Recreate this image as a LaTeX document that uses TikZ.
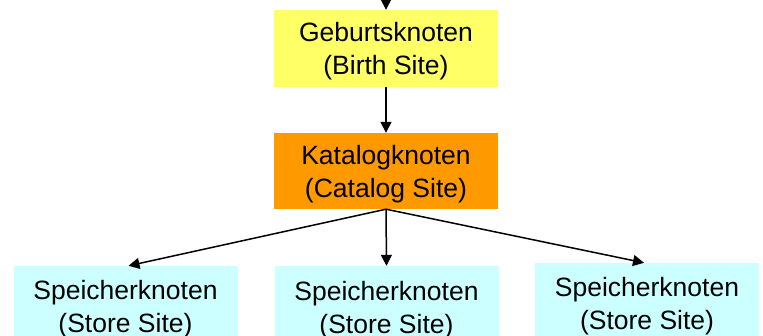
\documentclass[tikz,border=0pt]{standalone}
\usepackage{fontspec}
\setmainfont{Liberation Sans}
\usetikzlibrary{arrows.meta}
\definecolor{birthY}{HTML}{FFFF66}
\definecolor{catO}{HTML}{FF9900}
\definecolor{storeC}{HTML}{CCFFFF}
\tikzset{
  site/.style={rectangle, inner sep=0pt, minimum width=224pt},
  sitetext/.style={inner sep=0pt, align=center, yshift=-3pt,
    font=\fontsize{26.5}{33}\selectfont, text=black},
  conn/.style={line width=1.5pt, -{Triangle[length=11pt,width=11pt]}}
}
\begin{document}
\begin{tikzpicture}[x=1pt,y=-1pt]
\useasboundingbox (0,0) rectangle (763,336);
\clip (0,0) rectangle (763,336);
\fill[white] (0,0) rectangle (763,336);
\node[site, fill=birthY, minimum height=77pt,
  label={[sitetext]center:{Geburtsknoten\\(Birth Site)}}] (birth) at (386,48.5) {};
\node[site, fill=catO, minimum height=76pt,
  label={[sitetext]center:{Katalogknoten\\(Catalog Site)}}] (cat) at (386,171) {};
\node[site, fill=storeC, minimum height=80pt,
  label={[sitetext]center:{Speicherknoten\\(Store Site)}}] (s1) at (125.5,306) {};
\node[site, fill=storeC, minimum height=82pt,
  label={[sitetext]center:{Speicherknoten\\(Store Site)}}] (s2) at (386.5,307) {};
\node[site, fill=storeC, minimum height=80pt,
  label={[sitetext]center:{Speicherknoten\\(Store Site)}}] (s3) at (647,303) {};
\coordinate (top) at (386,-4);
\draw[conn] (top) -- (birth.north);
\draw[conn] (birth.south) -- (cat.north);
\draw[conn] (cat.south) -- ([xshift=3pt]s1.north);
\draw[conn] (cat.south) -- (s2.north);
\draw[conn] (cat.south) -- ([xshift=-3pt]s3.north);
\end{tikzpicture}
\end{document}
